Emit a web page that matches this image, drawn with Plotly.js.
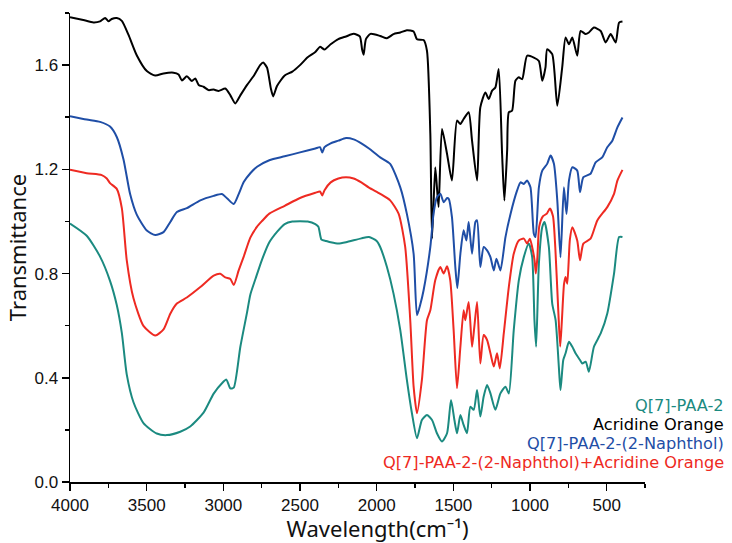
<!DOCTYPE html>
<html>
<head>
<meta charset="utf-8">
<script src="https://cdn.plot.ly/plotly-3.0.1.min.js"></script>
<style>html,body{margin:0;padding:0;background:#fff;}#chart{width:732px;height:543px;}</style>
</head>
<body>
<div id="chart"></div>
<script>
// ---- Data (wavenumber in cm^-1, transmittance) ----
const seriesNames = ["Q[7]-PAA-2", "Acridine Orange", "Q[7]-PAA-2-(2-Naphthol)", "Q[7]-PAA-2-(2-Naphthol)+Acridine Orange"];
const seriesColors = ["#1b8a80", "#000000", "#1f4ea6", "#ee2a22"];

const q7Wave = [4000,3891,3804,3739,3695,3662,3630,3586,3521,3434,3368,3281,3216,3129,3063,3009,2980,2954,2932,2889,2845,2824,2790,2750,2700,2650,2600,2550,2450,2400,2380,2360,2330,2300,2250,2200,2100,2050,2000,1977,1933,1890,1846,1803,1770,1737,1705,1672,1639,1607,1574,1541,1515,1493,1476,1454,1433,1411,1389,1367,1345,1324,1302,1280,1258,1226,1193,1160,1138,1106,1073,1040,1008,986,971,960,942,920,905,877,855,833,812,801,783,768,746,724,703,674,659,637,616,583,539,496,452,419,397];
const q7T = [0.992,0.945,0.865,0.772,0.679,0.572,0.413,0.306,0.226,0.186,0.180,0.193,0.213,0.266,0.339,0.379,0.393,0.359,0.362,0.519,0.652,0.719,0.78,0.85,0.92,0.96,0.99,1.0,1.0,0.99,0.98,0.93,0.925,0.92,0.915,0.92,0.935,0.94,0.925,0.902,0.825,0.723,0.583,0.392,0.264,0.168,0.238,0.257,0.238,0.187,0.155,0.187,0.315,0.238,0.187,0.257,0.219,0.187,0.289,0.277,0.353,0.251,0.328,0.372,0.340,0.277,0.340,0.366,0.340,0.583,0.774,0.864,0.915,0.864,0.621,0.519,0.838,0.979,0.998,0.902,0.685,0.621,0.443,0.353,0.468,0.494,0.538,0.519,0.494,0.468,0.455,0.462,0.423,0.519,0.570,0.647,0.800,0.940,0.940];

const aoWave = [4000,3913,3847,3804,3771,3749,3728,3695,3662,3619,3564,3499,3444,3390,3325,3292,3270,3238,3205,3183,3161,3129,3096,3063,3031,2987,2954,2922,2889,2845,2800,2760,2740,2715,2690,2675,2650,2600,2550,2500,2450,2400,2370,2340,2300,2250,2200,2150,2110,2095,2085,2070,2040,1977,1933,1890,1846,1803,1759,1737,1694,1672,1650,1639,1618,1607,1596,1574,1541,1509,1476,1454,1433,1400,1378,1345,1324,1291,1269,1247,1226,1204,1182,1167,1149,1138,1117,1095,1073,1051,1019,975,942,920,899,888,855,822,790,768,746,724,692,670,637,616,583,539,507,474,441,419,397];
const aoT = [1.784,1.773,1.764,1.768,1.781,1.768,1.777,1.781,1.770,1.717,1.637,1.577,1.560,1.568,1.571,1.564,1.541,1.557,1.539,1.549,1.524,1.517,1.504,1.506,1.501,1.510,1.484,1.453,1.484,1.524,1.56,1.60,1.61,1.59,1.51,1.48,1.52,1.56,1.575,1.60,1.63,1.65,1.67,1.66,1.68,1.70,1.71,1.72,1.71,1.66,1.64,1.70,1.72,1.712,1.703,1.719,1.725,1.734,1.729,1.699,1.696,1.655,1.336,0.934,1.208,1.131,1.055,1.355,1.259,1.157,1.387,1.374,1.393,1.419,1.310,1.157,1.438,1.495,1.470,1.502,1.514,1.585,1.259,1.080,1.272,1.419,1.425,1.540,1.553,1.546,1.636,1.629,1.616,1.540,1.591,1.661,1.642,1.444,1.591,1.706,1.680,1.706,1.636,1.731,1.719,1.725,1.744,1.731,1.687,1.719,1.687,1.763,1.767];

const q7nWave = [4000,3891,3804,3739,3695,3651,3608,3564,3499,3444,3390,3346,3303,3238,3150,3063,3009,2976,2932,2900,2867,2824,2780,2700,2600,2500,2400,2370,2355,2340,2300,2250,2200,2150,2100,2050,1977,1912,1846,1803,1759,1737,1716,1694,1650,1629,1607,1585,1563,1541,1530,1509,1487,1474,1454,1433,1415,1400,1378,1356,1345,1324,1302,1280,1258,1236,1219,1193,1160,1127,1084,1062,1040,1019,997,975,964,942,920,888,866,844,822,801,779,762,746,724,692,674,652,605,572,529,496,463,430,397];
const q7nT = [1.404,1.391,1.382,1.364,1.324,1.238,1.105,1.025,0.965,0.948,0.959,0.998,1.036,1.051,1.081,1.098,1.105,1.089,1.067,1.105,1.151,1.185,1.21,1.235,1.25,1.265,1.28,1.285,1.265,1.285,1.30,1.31,1.32,1.315,1.30,1.28,1.246,1.221,1.131,1.029,0.876,0.64,0.68,0.736,0.902,1.030,1.093,1.106,1.074,1.09,1.087,1.017,0.825,0.745,0.876,0.966,0.927,0.998,0.876,0.998,1.004,0.825,0.902,0.889,0.863,0.812,0.857,0.812,0.940,1.029,1.119,1.150,1.144,1.157,1.131,0.953,0.940,1.131,1.195,1.221,1.253,1.221,1.081,0.863,1.131,1.029,1.157,1.208,1.195,1.112,1.170,1.183,1.227,1.246,1.285,1.310,1.361,1.399];

const q7naoWave = [4000,3891,3793,3760,3739,3695,3662,3630,3586,3521,3444,3390,3346,3303,3238,3150,3063,3020,2987,2954,2932,2900,2867,2824,2780,2750,2700,2600,2500,2400,2370,2355,2340,2300,2250,2200,2150,2100,2050,1977,1912,1857,1814,1781,1759,1737,1705,1672,1650,1618,1585,1563,1541,1520,1498,1476,1454,1433,1422,1400,1378,1363,1345,1324,1302,1280,1258,1236,1215,1197,1171,1138,1106,1073,1040,1019,1001,986,970,962,952,940,915,890,870,850,835,815,803,792,778,768,757,740,724,692,674,652,605,561,496,452,430,397];
const q7naoT = [1.198,1.185,1.178,1.165,1.147,1.125,1.051,0.852,0.705,0.599,0.562,0.586,0.646,0.685,0.708,0.748,0.792,0.799,0.785,0.779,0.756,0.812,0.865,0.938,0.98,1.0,1.03,1.06,1.09,1.11,1.115,1.10,1.12,1.15,1.165,1.17,1.165,1.15,1.13,1.106,1.081,1.030,0.902,0.621,0.366,0.264,0.392,0.621,0.659,0.774,0.825,0.800,0.828,0.774,0.583,0.360,0.519,0.659,0.621,0.691,0.519,0.596,0.691,0.455,0.564,0.545,0.494,0.443,0.494,0.436,0.570,0.749,0.876,0.927,0.934,0.915,0.934,0.902,0.85,0.80,0.86,0.98,1.02,1.03,1.05,1.02,0.90,0.65,0.52,0.62,0.76,0.787,0.761,0.93,0.978,0.927,0.851,0.915,0.934,1.004,1.055,1.106,1.157,1.198];

const xTickVals = [4000,3500,3000,2500,2000,1500,1000,500];
const yTickVals = [0.0,0.4,0.8,1.2,1.6];
const yTickText = ["0.0","0.4","0.8","1.2","1.6"];

// ---- Build traces ----
const waves = [q7Wave, aoWave, q7nWave, q7naoWave];
const vals = [q7T, aoT, q7nT, q7naoT];
const traces = waves.map((w, i) => ({
  type: 'scatter', mode: 'lines', x: w, y: vals[i], name: seriesNames[i],
  line: {color: seriesColors[i], width: 2, shape: 'spline', smoothing: 0.6},
  showlegend: false, hoverinfo: 'skip'
}));

const legendTop = 405, legendStep = 19;
const annotations = seriesNames.map((n, i) => ({
  xref: 'paper', yref: 'paper',
  x: (726 - 70) / 575, y: 1 - (legendTop + i * legendStep - 13) / 469,
  xanchor: 'right', yanchor: 'middle', showarrow: false,
  text: n, font: {family: 'DejaVu Sans, Verdana, sans-serif', size: 16.2, color: seriesColors[i]}
}));

const axisCommon = {
  showline: true, linecolor: '#000', linewidth: 1.5, ticks: 'outside', ticklen: 7, tickwidth: 1.5, tickcolor: '#000',
  showgrid: false, zeroline: false, mirror: false,
  tickfont: {family: 'Liberation Sans, Arial, sans-serif', size: 17, color: '#111'}
};

const layout = {
  width: 732, height: 543,
  margin: {l: 70, r: 87, t: 13, b: 61},
  paper_bgcolor: '#fff', plot_bgcolor: '#fff',
  showlegend: false,
  xaxis: Object.assign({}, axisCommon, {
    range: [4000, 250], tickvals: xTickVals,
    minor: {ticks: 'outside', ticklen: 4, tickwidth: 1.5, tickcolor: '#000', dtick: 250, tick0: 0, showgrid: false},
    title: {text: '&nbsp;&nbsp;&nbsp;&nbsp;&nbsp;&nbsp;&nbsp;Wavelength(cm\u207b\u00b9)', font: {family: 'Noto Sans, Open Sans, sans-serif', size: 22, color: '#111'}, standoff: 6}
  }),
  yaxis: Object.assign({}, axisCommon, {
    range: [0, 1.8], tickvals: yTickVals, ticktext: yTickText,
    minor: {ticks: 'outside', ticklen: 4, tickwidth: 1.5, tickcolor: '#000', dtick: 0.2, tick0: 0, showgrid: false},
    title: {text: 'Transmittance', font: {family: 'Noto Sans, Open Sans, sans-serif', size: 22, color: '#111'}, standoff: 2}
  }),
  annotations: annotations
};

Plotly.newPlot('chart', traces, layout, {staticPlot: true, displayModeBar: false});
</script>
</body>
</html>
